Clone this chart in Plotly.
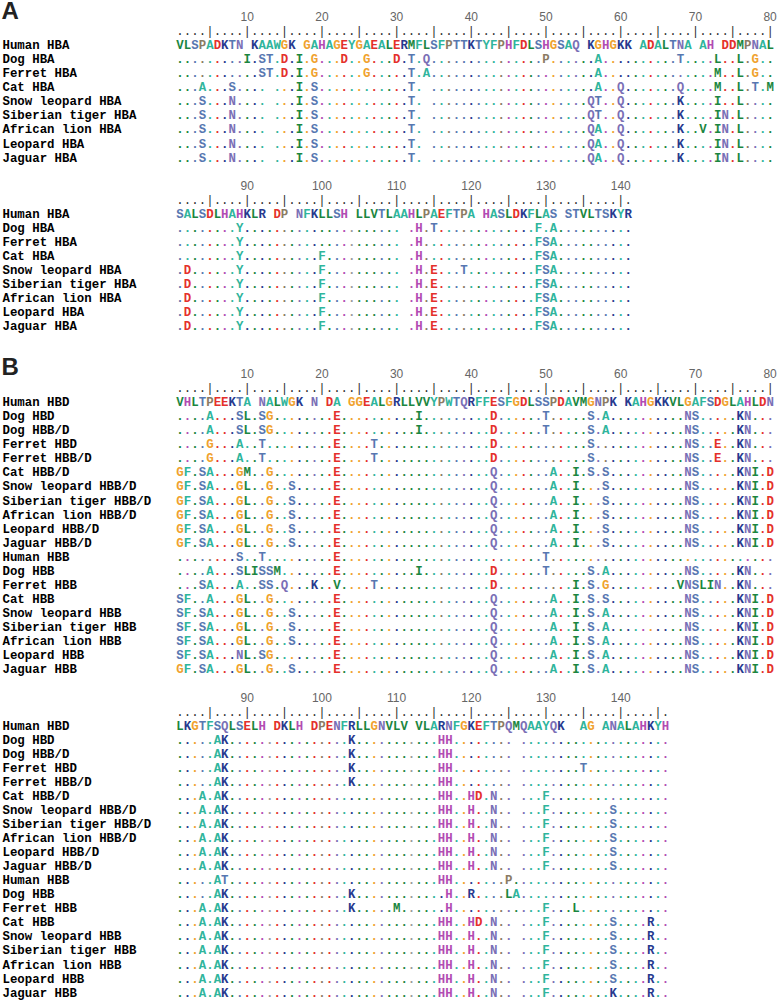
import plotly.graph_objects as go

# ---------------- data ----------------
# reference rows; lowercase = residue present but not printed in the reference row
hba_ref_1 = "VLSPADKTNvKAAWGKvGAHAGEYGAEALERMFLSFPTTKTYFPHFDLSHGSAQvKGHGKKvADALTNAvAHvDDMPNAL"
hba_ref_2 = "SALSDLHAHKLRvDPvNFKLLSHcLLVTLAAHLPAEFTPAvHASLDKFLASvSTVLTSKYR"
hbd_ref_1 = "VHLTPEEKTAvNALWGKvNvDAvGGEALGRLLVVYPWTQRFFESFGDLSSPDAVMGNPKvKAHGKKVLGAFSDGLAHLDN"
hbd_ref_2 = "LKGTFSQLSELHcDKLHvDPENFRLLGNVLVcVLARNFGKEFTPQMQAAYQKvvAGvANALAHKYH"

names_a = ["Human HBA", "Dog HBA", "Ferret HBA", "Cat HBA", "Snow leopard HBA",
           "Siberian tiger HBA", "African lion HBA", "Leopard HBA", "Jaguar HBA"]
names_b = ["Human HBD", "Dog HBD", "Dog HBB/D", "Ferret HBD", "Ferret HBB/D", "Cat HBB/D",
           "Snow leopard HBB/D", "Siberian tiger HBB/D", "African lion HBB/D", "Leopard HBB/D",
           "Jaguar HBB/D", "Human HBB", "Dog HBB", "Ferret HBB", "Cat HBB", "Snow leopard HBB",
           "Siberian tiger HBB", "African lion HBB", "Leopard HBB", "Jaguar HBB"]

# substitutions vs. reference: "<column><residue>", '_' = not printed
hba_diff_1 = [
    "10I 12S 13T 15D 17I 19G 23D 26G 30D 32T 34Q 50P 57A 68T 73L 76L 78G",
    "12S 13T 15D 17I 19G 26G 32T 34A 57A 73M 76L 78G",
    "4A 8S 13_ 17I 19S 32T 34_ 57A 60Q 68Q 73M 76L 78T 80M",
    "4S 8N 13_ 17I 19S 32T 34_ 56Q 57T 60Q 68K 73I 76L",
    "4S 8N 13_ 17I 19S 32T 34_ 56Q 57T 60Q 68K 73I 74N 76L",
    "4S 8N 13_ 17I 19S 32T 34_ 56Q 57A 60Q 68K 71V 73I 74N 76L",
    "4S 8N 13_ 17I 19S 32T 34_ 56Q 57A 60Q 68K 73I 74N 76L",
    "4S 8N 13_ 17I 19S 32T 34_ 56Q 57A 60Q 68K 73I 74N 76L",
]
hba_diff_2 = [
    "9Y 31_ 33H 35T 49F 51A",
    "9Y 31_ 33H 49F 50S 51A",
    "9Y 20F 31_ 33H 49F 50S 51A",
    "2D 9Y 20F 31_ 33H 35E 39T 49F 50S 51A",
    "2D 9Y 20F 31_ 33H 35E 49F 50S 51A",
    "2D 9Y 20F 31_ 33H 35E 49F 50S 51A",
    "2D 9Y 20F 31_ 33H 35E 49F 50S 51A",
    "2D 9Y 20F 31_ 33H 35E 49F 50S 51A",
]
hbd_diff_1 = [
    "5A 9S 10L 12S 13G 22E 33I 43D 50T 56S 58A 69N 70S 76K 77N",
    "5A 9S 10L 12S 13G 22E 33I 43D 50T 56S 58A 69N 70S 76K 77N",
    "5G 9A 12T 22E 27T 43D 56S 69N 70S 73E 76K 77N",
    "5G 9A 12T 22E 27T 43D 56S 69N 70S 73E 76K 77N",
    "1G 2F 4S 5A 9G 10M 13G 22E 43Q 51A 54I 56S 58S 69N 70S 76K 77N 78I 80D",
    "1G 2F 4S 5A 9G 10L 13G 16S 22E 43Q 51A 54I 58S 69N 70S 76K 77N 78I 80D",
    "1G 2F 4S 5A 9G 10L 13G 16S 22E 43Q 51A 54I 58S 69N 70S 76K 77N 78I 80D",
    "1G 2F 4S 5A 9G 10L 13G 16S 22E 43Q 51A 54I 58S 69N 70S 76K 77N 78I 80D",
    "1G 2F 4S 5A 9G 10L 13G 16S 22E 43Q 51A 54I 58S 69N 70S 76K 77N 78I 80D",
    "1G 2F 4S 5A 9G 10L 13G 16S 22E 43Q 51A 54I 58S 69N 70S 76K 77N 78I 80D",
    "9S 12T 22E 50T",
    "5A 9S 10L 11I 12S 13S 14M 22E 33I 43D 50T 56S 58A 69N 70S 76K 77N",
    "4S 5A 9A 12S 13S 15Q 19K 22V 27T 43D 54I 56S 58G 68V 69N 70S 71L 72I 73N 76K 77N",
    "1S 2F 5A 9G 10L 13G 22E 43Q 51A 54I 56S 58S 69N 70S 76K 77N 78I 80D",
    "1S 2F 4S 5A 9G 10L 13G 16S 22E 43Q 51A 54I 56S 58A 69N 70S 76K 77N 78I 80D",
    "1S 2F 4S 5A 9G 10L 13G 16S 22E 43Q 51A 54I 56S 58A 69N 70S 76K 77N 78I 80D",
    "1S 2F 4S 5A 9G 10L 13G 16S 22E 43Q 51A 54I 56S 58A 69N 70S 76K 77N 78I 80D",
    "1S 2F 4S 5A 9N 10L 12S 13G 22E 43Q 51A 54I 56S 58A 69N 70S 76K 77N 78I 80D",
    "1G 2F 4S 5A 9G 10L 13G 16S 22E 43Q 51A 54I 56S 58A 69N 70S 76K 77N 78I 80D",
]
hbd_diff_2 = [
    "6A 7K 24K 36H 37H 46_",
    "6A 7K 24K 36H 37H 46_",
    "6A 7K 24K 36H 37H 46_ 55T",
    "6A 7K 24K 36H 37H 46_",
    "4A 6A 7K 36H 37H 40H 41D 43N 46_ 50F",
    "4A 6A 7K 36H 37H 40H 43N 46_ 50F 59S",
    "4A 6A 7K 36H 37H 40H 43N 46_ 50F 59S",
    "4A 6A 7K 36H 37H 40H 43N 46_ 50F 59S",
    "4A 6A 7K 36H 37H 40H 43N 46_ 50F 59S",
    "4A 6A 7K 36H 37H 40H 43N 46_ 50F 59S",
    "6A 7T 36H 37H 45P",
    "6A 7K 24K 37H 40R 45L 46A",
    "4A 6A 7K 24K 30M 37H 50F 54L",
    "4A 6A 7K 36H 37H 40H 41D 43N 46_ 50F 59S 64R",
    "4A 6A 7K 36H 37H 40H 43N 46_ 50F 59S 64R",
    "4A 6A 7K 36H 37H 40H 43N 46_ 50F 59S 64R",
    "4A 6A 7K 36H 37H 40H 43N 46_ 50F 59S 64R",
    "4A 6A 7K 36H 37H 40H 43N 46_ 50F 59S 64R",
    "4A 6A 7K 36H 37H 40H 43N 46_ 50F 59K 64R",
]

# ---------------- style ----------------
RES_COL = {
    'A': '#2fb59c', 'F': '#2fb59c', 'Y': '#2fb59c', 'W': '#2fb59c',
    'V': '#1b8640', 'L': '#1b8640', 'I': '#1b8640', 'M': '#1b8640',
    'S': '#5777b1', 'T': '#5777b1', 'N': '#7a6fb6', 'Q': '#7a6fb6',
    'K': '#27398e', 'R': '#27398e', 'D': '#e4302b', 'E': '#e4302b',
    'G': '#f0a22e', 'H': '#b24cb3', 'P': '#8b7b63', 'C': '#9a9a9a',
}
W, H = 779, 1006
X0 = 180.0       # pixel centre of column 1
CW = 7.47        # column width
PITCH = 14.05    # line pitch
FS = 12.4
MONO = "Liberation Mono, Courier New, monospace"
SANS = "Liberation Sans, Arial, sans-serif"


def build(ref, spec):
    row = ['.'] * len(ref)
    for tok in spec.split():
        row[int(tok[:-1]) - 1] = tok[-1]
    return row


def px_to_col(p):
    return (p - X0) / CW + 1


blocks = [
    (hba_ref_1, 0, names_a, hba_diff_1, 18.0),
    (hba_ref_2, 80, names_a, hba_diff_2, 186.5),
    (hbd_ref_1, 0, names_b, hbd_diff_1, 375.0),
    (hbd_ref_2, 80, names_b, hbd_diff_2, 698.5),
]

fig = go.Figure()
for ref, offset, names, diffs, top in blocks:
    n = len(ref)
    y_num, y_rul, y_first = top, top + PITCH, top + 2 * PITCH
    # ruler numbers
    nums = list(range(10, n + 1, 10))
    fig.add_trace(go.Scatter(
        x=nums, y=[y_num] * len(nums), mode="text",
        text=[str(offset + c) for c in nums], textposition="middle center",
        textfont=dict(family=SANS, size=12, color="#666666")))
    # ruler ticks
    cols = list(range(1, n + 1))
    fig.add_trace(go.Scatter(
        x=cols, y=[y_rul] * n, mode="text",
        text=['|' if c % 5 == 0 else '.' for c in cols], textposition="middle center",
        textfont=dict(family=MONO, size=FS, color="#333333")))
    # sequences
    xs, ys, ts, cs = [], [], [], []
    rows = [list(ref)] + [build(ref, d) for d in diffs]
    for r, row in enumerate(rows):
        y = y_first + r * PITCH
        for c, ch in enumerate(row):
            if r == 0:
                if ch.islower():
                    continue
                col = RES_COL[ch]
            else:
                if ch == '_':
                    continue
                col = RES_COL[ref[c].upper()] if ch == '.' else RES_COL[ch]
            xs.append(c + 1); ys.append(y); ts.append(ch); cs.append(col)
    fig.add_trace(go.Scatter(
        x=xs, y=ys, mode="text", text=ts, textposition="middle center",
        textfont=dict(family=MONO, size=FS, color=cs, weight="bold")))
    # row labels
    fig.add_trace(go.Scatter(
        x=[px_to_col(2.5)] * len(names), y=[y_first + i * PITCH for i in range(len(names))],
        mode="text", text=names, textposition="middle right",
        textfont=dict(family=MONO, size=FS, color="#000000", weight="bold")))

# panel letters
fig.add_trace(go.Scatter(
    x=[px_to_col(1.5)] * 2, y=[12.5, 368.5], mode="text", text=["A", "B"],
    textposition="middle right",
    textfont=dict(family=SANS, size=24, color="#222222", weight="bold")))

fig.update_traces(cliponaxis=False)
fig.update_layout(
    width=W, height=H, margin=dict(l=0, r=0, t=0, b=0),
    paper_bgcolor="white", plot_bgcolor="white", showlegend=False, hovermode=False,
    xaxis=dict(range=[px_to_col(0), px_to_col(W)], visible=False, fixedrange=True),
    yaxis=dict(range=[H, 0], visible=False, fixedrange=True),
)
fig.write_html("out.html", config={"displayModeBar": False},
               post_script="document.body.style.margin='0';document.body.style.overflow='hidden';")
